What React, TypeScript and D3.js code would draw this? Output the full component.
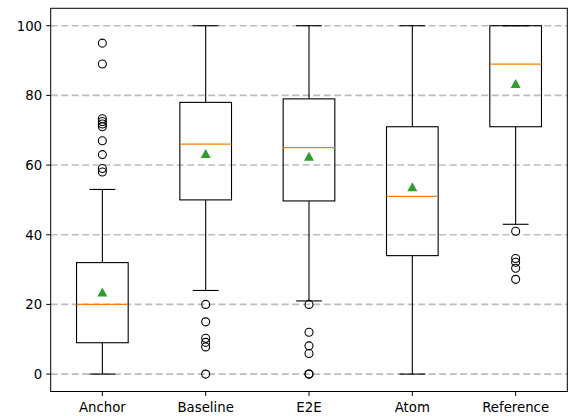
import React from "react";
import * as d3 from "d3";

const categories = ["Anchor", "Baseline", "E2E", "Atom", "Reference"];
const whiskerLow = [0, 24, 21, 0, 43];
const q1 = [9, 50, 49.7, 34, 71];
const medians = [20, 66, 65, 51, 89];
const q3 = [32, 78, 79, 71, 100];
const whiskerHigh = [53, 100, 100, 100, 100];
const means = [23.4, 63.2, 62.4, 53.6, 83.3];
const outliers = [
  [58, 59, 63, 67, 71, 71.8, 72.5, 73.3, 89, 95],
  [0, 7.8, 9.1, 10.3, 15, 20],
  [0, 0, 5.9, 8.1, 12, 20],
  [],
  [27.2, 30.4, 32.1, 33.2, 41],
];
const yTicks = [0, 20, 40, 60, 80, 100];

export default function App() {
  const W = 568, H = 416;
  const left = 50.7, right = 567.3, top = 8.3, bottom = 391.5;
  const x = d3.scaleLinear().domain([0.5, 5.5]).range([left, right]);
  const y = d3.scaleLinear().domain([-5, 105]).range([bottom, top]);
  const bw = x(1.25) - x(1);
  const cw = x(1.125) - x(1);
  const font = "'DejaVu Sans', sans-serif";
  const fs = 13.3;
  return (
    <svg width={W} height={H} style={{ position: "absolute", left: 0, top: 0 }}>
      <rect x={0} y={0} width={W} height={H} fill="#fff" />
      {yTicks.map((t) => (
        <line key={"g" + t} x1={left} x2={right} y1={y(t)} y2={y(t)} stroke="#bdbdbd" strokeWidth={1.6} strokeDasharray="7,3.5" />
      ))}
      {categories.map((c, i) => {
        const cx = x(i + 1);
        return (
          <g key={c}>
            <line x1={cx} x2={cx} y1={y(q3[i])} y2={y(whiskerHigh[i])} stroke="#000" strokeWidth={1.1} />
            <line x1={cx} x2={cx} y1={y(q1[i])} y2={y(whiskerLow[i])} stroke="#000" strokeWidth={1.1} />
            <line x1={cx - cw} x2={cx + cw} y1={y(whiskerHigh[i])} y2={y(whiskerHigh[i])} stroke="#000" strokeWidth={1.1} />
            <line x1={cx - cw} x2={cx + cw} y1={y(whiskerLow[i])} y2={y(whiskerLow[i])} stroke="#000" strokeWidth={1.1} />
            <rect x={cx - bw} y={y(q3[i])} width={2 * bw} height={y(q1[i]) - y(q3[i])} fill="none" stroke="#000" strokeWidth={1.1} />
            <line x1={cx - bw} x2={cx + bw} y1={y(medians[i])} y2={y(medians[i])} stroke="#ff7f0e" strokeWidth={1.3} />
            <path d={`M${cx},${y(means[i]) - 5} L${cx + 5},${y(means[i]) + 4} L${cx - 5},${y(means[i]) + 4} Z`} fill="#2ca02c" />
            {outliers[i].map((o, j) => (
              <circle key={j} cx={cx} cy={y(o)} r={4} fill="none" stroke="#000" strokeWidth={1.1} />
            ))}
          </g>
        );
      })}
      <rect x={left} y={top} width={right - left} height={bottom - top} fill="none" stroke="#000" strokeWidth={1} />
      {yTicks.map((t) => (
        <g key={"t" + t}>
          <line x1={left - 4.4} x2={left} y1={y(t)} y2={y(t)} stroke="#000" strokeWidth={1} />
          <text x={left - 8.6} y={y(t)} dy="0.36em" textAnchor="end" fontFamily={font} fontSize={fs} fill="#000">{t}</text>
        </g>
      ))}
      {categories.map((c, i) => (
        <g key={"x" + c}>
          <line x1={x(i + 1)} x2={x(i + 1)} y1={bottom} y2={bottom + 4.4} stroke="#000" strokeWidth={1} />
          <text x={x(i + 1)} y={412.3} textAnchor="middle" fontFamily={font} fontSize={fs} fill="#000">{c}</text>
        </g>
      ))}
    </svg>
  );
}
